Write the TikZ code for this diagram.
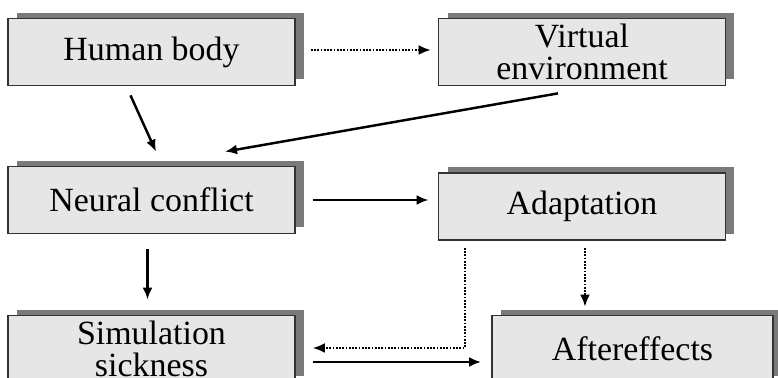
\documentclass[tikz,border=0pt]{standalone}
\usepackage{fontspec}
\setmainfont{Liberation Serif}
\usetikzlibrary{arrows.meta,shadows,calc}
\definecolor{boxfill}{HTML}{E6E6E6}
\definecolor{boxshade}{HTML}{7A7A7A}
\definecolor{boxline}{HTML}{333333}
\begin{document}
\begin{tikzpicture}[x=0.02cm,y=-0.02cm,
  box/.style={draw=boxline,line width=1pt,fill=boxfill,align=center,inner sep=0pt,
    minimum width=5.74cm,minimum height=1.34cm,
    font=\fontsize{19.3}{18.5}\selectfont,
    general shadow={shadow xshift=0.18cm,shadow yshift=0.12cm,fill=boxshade}},
  arr/.style={line width=1.4pt,-{Latex[length=0.24cm,width=0.2cm]}},
  dotarr/.style={arr,line width=1.2pt,dash pattern=on 0.035cm off 0.03cm}]
\useasboundingbox (0,0) rectangle (778,378);

\node[box] (hb) at (151.5,52) {Human body};
\node[box] (ve) at (582,52) {Virtual\\environment};
\node[box] (nc) at (151.5,200) {Neural conflict};
\node[box] (ad) at (582,206.5) {Adaptation};
\node[box] (ss) at (151.5,349) {Simulation\\sickness};
\node[box,minimum width=5.62cm] (ae) at (632.5,349) {Aftereffects};

\draw[dotarr] ($(hb.east)+(15,-2)$) -- ($(ve.west)+(-7,-2)$);
\draw[arr] ($(hb.south)+(-21,9)$) -- ($(nc.north)+(4.5,-14)$);
\draw[arr] ($(ve.south)+(-24,7)$) -- ($(nc.north)+(73.5,-14)$);
\draw[arr] ($(nc.east)+(17,0)$) -- ($(nc.east -| ad.west)+(-9,0)$);
\draw[arr] ($(nc.south)+(-4,15)$) -- ($(ss.north)+(-4,-15)$);
\draw[dotarr] ($(ad.south)+(3,7)$) -- ($(ad.south |- ae.north)+(3,-8)$);
\draw[dotarr] ($(ad.south)+(-117,7)$) |- ($(ss.east)+(17,-1)$);
\draw[arr] ($(ss.east)+(17,13)$) -- ($(ae.west)+(-10,13)$);
\end{tikzpicture}
\end{document}
